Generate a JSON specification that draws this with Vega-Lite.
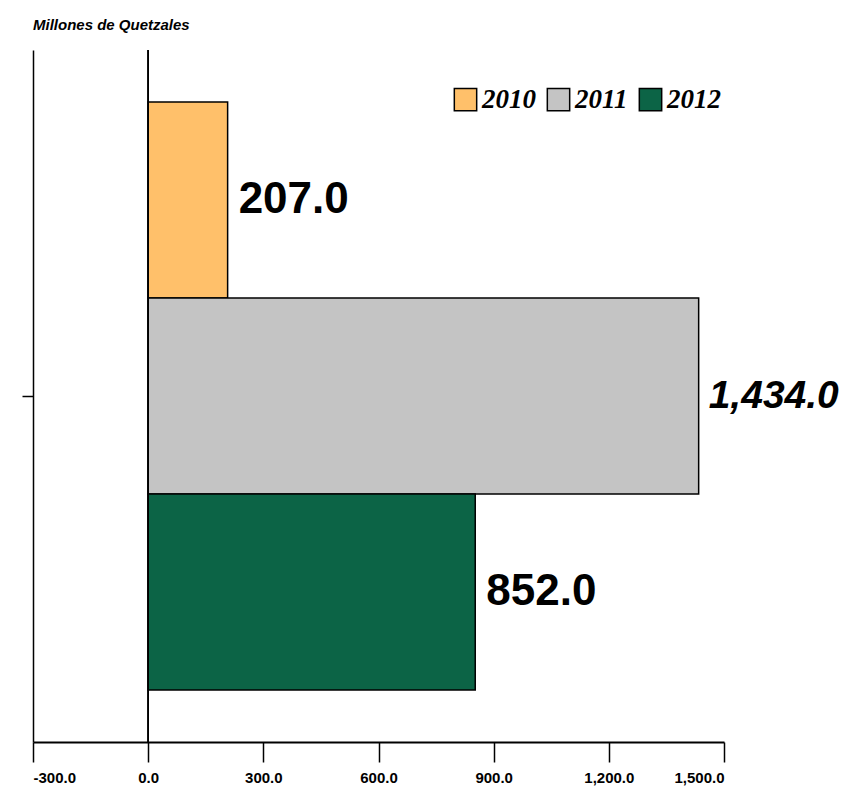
{
  "$schema": "https://vega.github.io/schema/vega-lite/v6.json",
  "width": 691,
  "height": 692,
  "autosize": "none",
  "padding": {"left": 33, "top": 50, "right": 122, "bottom": 56},
  "background": "white",
  "title": {
    "text": "Millones de Quetzales",
    "anchor": "start",
    "frame": "group",
    "font": "Liberation Sans, Arial",
    "fontSize": 15,
    "fontWeight": "bold",
    "fontStyle": "italic",
    "color": "black",
    "offset": 16
  },
  "data": {
    "values": [
      {"grupo": "A", "year": "2010", "value": 207.0},
      {"grupo": "A", "year": "2011", "value": 1434.0},
      {"grupo": "A", "year": "2012", "value": 852.0}
    ]
  },
  "config": {
    "view": {"stroke": null},
    "axis": {"grid": false, "domainColor": "black", "tickColor": "black", "labelColor": "black"}
  },
  "encoding": {
    "y": {
      "field": "grupo",
      "type": "nominal",
      "scale": {"padding": 0},
      "axis": {"labels": false, "title": null, "ticks": true, "tickSize": 11, "domainWidth": 1.5, "tickWidth": 1.5}
    },
    "yOffset": {
      "field": "year",
      "type": "nominal",
      "scale": {"paddingInner": 0, "paddingOuter": 0.265}
    },
    "x": {
      "field": "value",
      "type": "quantitative",
      "scale": {"domain": [-300, 1500], "nice": false, "zero": false},
      "axis": {
        "values": [-300, 0, 300, 600, 900, 1200, 1500],
        "labelExpr": "replace(format(datum.value, ',.1f'), '\u2212', '-')",
        "title": null,
        "tickSize": 20,
        "tickWidth": 1.5,
        "domainWidth": 2,
        "labelFont": "Liberation Sans, Arial",
        "labelFontWeight": "bold",
        "labelFontSize": 15,
        "labelPadding": 8
      }
    }
  },
  "layer": [
    {
      "mark": {"type": "bar", "stroke": "black", "strokeWidth": 1.5},
      "encoding": {
        "fill": {
          "field": "year",
          "type": "nominal",
          "scale": {"domain": ["2010", "2011", "2012"], "range": ["#FFC06A", "#C4C4C4", "#0C6446"]},
          "legend": {
            "title": null,
            "orient": "none",
            "legendX": 419,
            "legendY": 36,
            "direction": "horizontal",
            "symbolType": "square",
            "symbolSize": 500,
            "symbolStrokeColor": "black",
            "symbolStrokeWidth": 1.5,
            "symbolOpacity": 1,
            "labelFont": "Liberation Serif, Times New Roman",
            "labelFontStyle": "italic",
            "labelFontWeight": "bold",
            "labelFontSize": 27,
            "labelColor": "black",
            "labelOffset": 3,
            "columnPadding": 8
          }
        }
      }
    },
    {
      "mark": {"type": "rule", "color": "black", "strokeWidth": 1.5},
      "encoding": {"x": {"datum": 0}, "y": null, "yOffset": null}
    },
    {
      "transform": [{"filter": "datum.year != '2011'"}],
      "mark": {
        "type": "text",
        "align": "left",
        "baseline": "middle",
        "dx": 11,
        "font": "Liberation Sans, Arial",
        "fontWeight": "bold",
        "fontSize": 44,
        "color": "black"
      },
      "encoding": {"text": {"field": "value", "type": "quantitative", "format": ",.1f"}}
    },
    {
      "transform": [{"filter": "datum.year == '2011'"}],
      "mark": {
        "type": "text",
        "align": "left",
        "baseline": "middle",
        "dx": 10,
        "font": "Liberation Sans, Arial",
        "fontWeight": "bold",
        "fontStyle": "italic",
        "fontSize": 39,
        "color": "black"
      },
      "encoding": {"text": {"field": "value", "type": "quantitative", "format": ",.1f"}}
    }
  ]
}
